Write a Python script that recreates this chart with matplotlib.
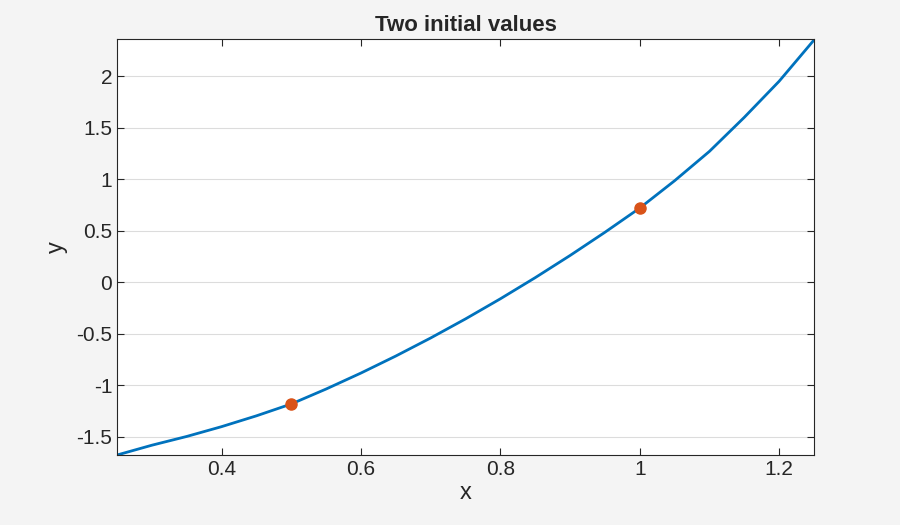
import matplotlib
matplotlib.use("Agg")
import matplotlib.pyplot as plt

curve_x = [0.25,0.3,0.35,0.4,0.45,0.5,0.55,0.6,0.65,0.7,0.75,0.8,0.85,0.9,0.95,1.0,1.05,1.1,1.15,1.2,1.25]
curve_y = [-1.675,-1.58,-1.495,-1.40,-1.295,-1.18,-1.035,-0.88,-0.715,-0.54,-0.355,-0.16,0.045,0.26,0.485,0.72,0.985,1.27,1.60,1.95,2.35]
pts_x = [0.5, 1.0]
pts_y = [-1.18, 0.72]
xticks = [0.4,0.6,0.8,1.0,1.2]
xticklabels = ["0.4","0.6","0.8","1","1.2"]
yticks = [-1.5,-1,-0.5,0,0.5,1,1.5,2]
yticklabels = ["-1.5","-1","-0.5","0","0.5","1","1.5","2"]

plt.rcParams['font.family'] = ['Liberation Sans', 'DejaVu Sans']
fig = plt.figure(figsize=(9,5.25), dpi=100, facecolor='#f4f4f4')
ax = fig.add_axes([0.13, 0.1333, 0.7744, 0.7924])
ax.plot(curve_x, curve_y, color='#0072BD', lw=2)
ax.plot(pts_x, pts_y, 'o', color='#D95319', ms=8)
ax.set_xlim(0.25, 1.25)
ax.set_ylim(-1.675, 2.36)
ax.set_xticks(xticks, xticklabels)
ax.set_yticks(yticks, yticklabels)
ax.grid(axis='y', color='#dcdcdc', lw=0.8)
ax.set_axisbelow(True)
ax.tick_params(direction='in', labelsize=15, color='#262626', labelcolor='#262626', top=True, right=True, length=5)
for s in ax.spines.values():
    s.set_color('#262626'); s.set_linewidth(0.8)
ax.set_xlabel('x', fontsize=17, color='#262626', labelpad=2)
ax.set_ylabel('y', fontsize=17, color='#262626', labelpad=6)
ax.set_title('Two initial values', fontsize=16, fontweight='bold', color='#262626', pad=6)
fig.savefig('out.png', dpi=100, facecolor=fig.get_facecolor())
